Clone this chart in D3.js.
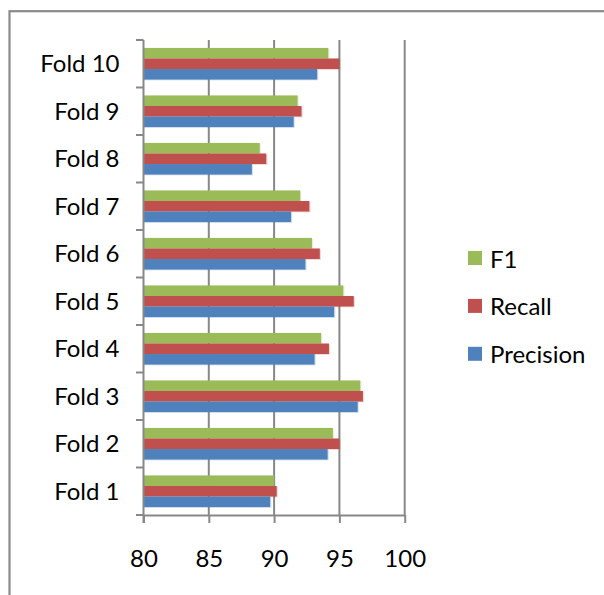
<!DOCTYPE html>
<html>
<head>
<meta charset="utf-8">
<script src="https://cdn.jsdelivr.net/npm/d3@7/dist/d3.min.js"></script>
<style>
  html, body { margin: 0; padding: 0; background: #fff; }
  svg { display: block; }
  text { font-family: Lato, "Open Sans", sans-serif; fill: #000; }
</style>
</head>
<body>
<svg id="chart" width="604" height="595"></svg>
<script>
// Cross-validation scores per fold
const folds = ["Fold 1", "Fold 2", "Fold 3", "Fold 4", "Fold 5",
               "Fold 6", "Fold 7", "Fold 8", "Fold 9", "Fold 10"];
const precision = [89.7, 94.1, 96.4, 93.1, 94.6, 92.4, 91.3, 88.3, 91.5, 93.3];
const recall    = [90.2, 95.0, 96.8, 94.2, 96.1, 93.5, 92.7, 89.4, 92.1, 95.0];
const f1        = [90.0, 94.5, 96.6, 93.6, 95.3, 92.9, 92.0, 88.9, 91.8, 94.15];
const xTicks = [80, 85, 90, 95, 100];

// Series stacked top-to-bottom inside each category
const series = [
  { name: "F1",        values: f1,        color: "#9BBB59" },
  { name: "Recall",    values: recall,    color: "#C0504D" },
  { name: "Precision", values: precision, color: "#4F81BD" }
];

const svg = d3.select("#chart");
const FONT = 24;

// Chart frame
svg.append("rect")
  .attr("x", 9.5).attr("y", 11.2)
  .attr("width", 700).attr("height", 700)
  .attr("fill", "none").attr("stroke", "#8a8a8a").attr("stroke-width", 2.2);

const plot = { left: 143.5, right: 404.7, top: 40, bottom: 515 };

const x = d3.scaleLinear().domain([80, 100]).range([plot.left, plot.right]);
const y = d3.scaleBand().domain(folds.slice().reverse()).range([plot.top, plot.bottom]);
// Excel-style gap width of 150%
const gapFrac = 1.5 / 4.5;
const ys = d3.scaleBand().domain(series.map(s => s.name))
  .range([y.bandwidth() * gapFrac / 2, y.bandwidth() * (1 - gapFrac / 2)]);

// Vertical gridlines
svg.append("g").selectAll("line")
  .data(xTicks.slice(1))
  .join("line")
  .attr("x1", d => x(d)).attr("x2", d => x(d))
  .attr("y1", plot.top).attr("y2", plot.bottom)
  .attr("stroke", "#888").attr("stroke-width", 2);

// Bars
const groups = svg.append("g").selectAll("g")
  .data(series)
  .join("g")
  .attr("fill", s => s.color);

groups.selectAll("rect.shade")
  .data(s => s.values.map((v, i) => ({ v, fold: folds[i], s: s.name })))
  .join("rect")
  .attr("class", "shade")
  .attr("x", x(80))
  .attr("y", d => y(d.fold) + ys(d.s) + 0.8)
  .attr("width", d => x(d.v) - x(80) + 1.2)
  .attr("height", ys.bandwidth())
  .attr("opacity", 0.22);

groups.selectAll("rect.bar")
  .data(s => s.values.map((v, i) => ({ v, fold: folds[i], s: s.name })))
  .join("rect")
  .attr("class", "bar")
  .attr("x", x(80))
  .attr("y", d => y(d.fold) + ys(d.s))
  .attr("width", d => x(d.v) - x(80))
  .attr("height", ys.bandwidth());

// Category axis
const yAxis = svg.append("g")
  .attr("transform", `translate(${plot.left},0)`)
  .call(d3.axisLeft(y).tickSize(0).tickPadding(24).tickSizeOuter(0));
yAxis.select(".domain").remove();
yAxis.selectAll("text")
  .attr("font-size", FONT).attr("font-family", "Lato, sans-serif")
  .attr("dy", "0.35em");

// Category separators (tick marks between bands)
const sepY = folds.map(f => y(f)).concat([plot.bottom]);
svg.append("g").selectAll("line")
  .data(sepY)
  .join("line")
  .attr("x1", plot.left - 7.5).attr("x2", plot.left)
  .attr("y1", d => d).attr("y2", d => d)
  .attr("stroke", "#888").attr("stroke-width", 2);
svg.append("line")
  .attr("x1", plot.left).attr("x2", plot.left)
  .attr("y1", plot.top).attr("y2", plot.bottom + 8)
  .attr("stroke", "#888").attr("stroke-width", 2);

// Value axis
const xAxis = svg.append("g")
  .attr("transform", `translate(0,${plot.bottom})`)
  .call(d3.axisBottom(x).tickValues(xTicks).tickSize(8).tickSizeOuter(0).tickPadding(27));
xAxis.select(".domain").attr("stroke", "#888").attr("stroke-width", 2);
xAxis.selectAll(".tick line").attr("stroke", "#888").attr("stroke-width", 2);
xAxis.selectAll("text").attr("font-size", FONT).attr("font-family", "Lato, sans-serif");

// Legend
const ly = d3.scalePoint().domain(series.map(s => s.name)).range([258, 353.8]);
const legend = svg.append("g").selectAll("g")
  .data(series)
  .join("g")
  .attr("transform", s => `translate(468,${ly(s.name)})`);
legend.append("rect")
  .attr("x", 0).attr("y", -7).attr("width", 14).attr("height", 14)
  .attr("fill", s => s.color);
legend.append("text")
  .attr("x", 22).attr("y", 9.5)
  .attr("font-size", FONT)
  .text(s => s.name);
</script>
</body>
</html>
